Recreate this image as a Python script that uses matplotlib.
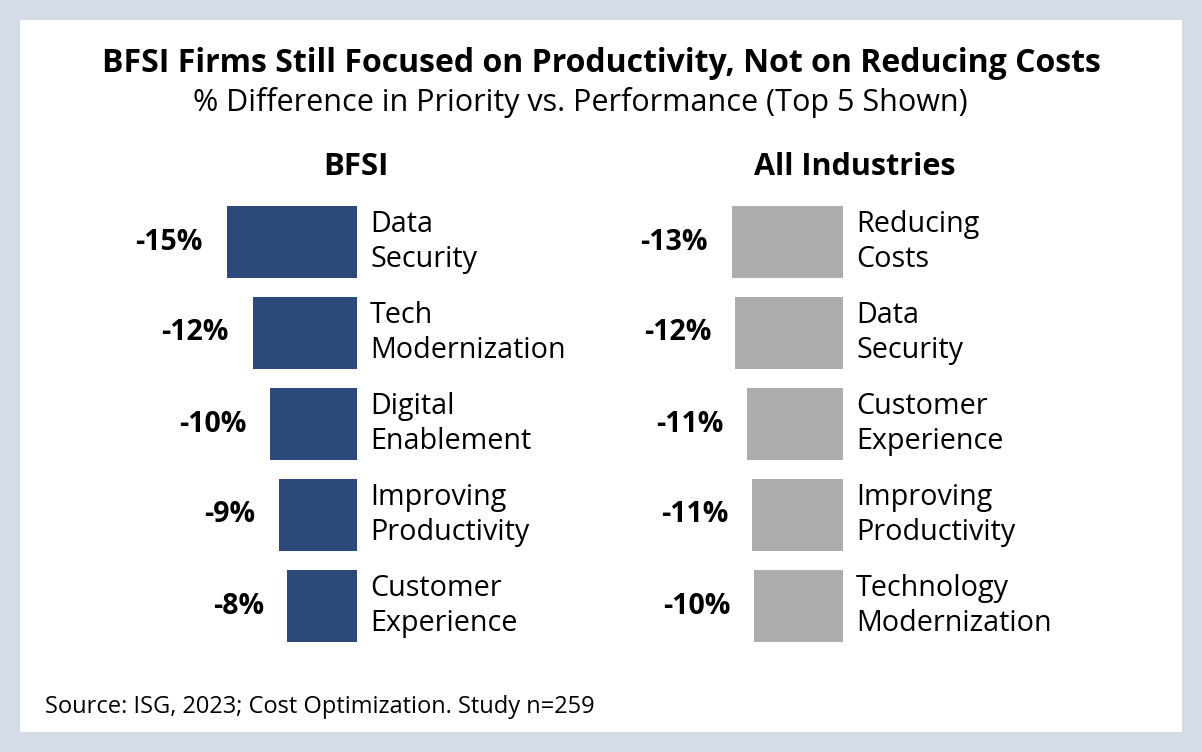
import matplotlib.pyplot as plt
from matplotlib.patches import Rectangle

plt.rcParams['font.family'] = ['Open Sans', 'DejaVu Sans']

# data
bfsi_cats = ['Data\nSecurity', 'Tech\nModernization', 'Digital\nEnablement',
             'Improving\nProductivity', 'Customer\nExperience']
bfsi_vals = [-15, -12, -10, -9, -8]
bfsi_labels = ['-15%', '-12%', '-10%', '-9%', '-8%']

all_cats = ['Reducing\nCosts', 'Data\nSecurity', 'Customer\nExperience',
            'Improving\nProductivity', 'Technology\nModernization']
all_vals = [-12.8, -12.4, -11.0, -10.5, -10.2]
all_labels = ['-13%', '-12%', '-11%', '-11%', '-10%']

W, H = 1202, 752
navy = '#2b4a7a'
grey = '#adadae'
border = '#d5dbe7'


def fx(x):
    return x / W


def fy(y):
    return 1 - y / H


fig = plt.figure(figsize=(W / 100, H / 100), dpi=100)
fig.patch.set_facecolor(border)
fig.patches.append(Rectangle((fx(20), fy(732)), fx(1162), (712) / H,
                             transform=fig.transFigure, facecolor='white',
                             edgecolor='none', zorder=-5))

fig.text(fx(601), fy(64), 'BFSI Firms Still Focused on Productivity, Not on Reducing Costs',
         ha='center', va='center', fontsize=23, fontweight='bold')
fig.text(fx(580), fy(102), '% Difference in Priority vs. Performance (Top 5 Shown)',
         ha='center', va='center', fontsize=22)
fig.text(fx(356), fy(167), 'BFSI', ha='center', va='center', fontsize=22.5, fontweight='bold')
fig.text(fx(855), fy(167), 'All Industries', ha='center', va='center',
         fontsize=22, fontweight='bold')
fig.text(fx(45), fy(707), 'Source: ISG, 2023; Cost Optimization. Study n=259',
         ha='left', va='center', fontsize=17)

scale = 8.7  # px per percent
span = 257   # px of axes width
top, step = 196.5, 91


def panel(right_px, cats, vals, labels, color):
    left_px = right_px - span
    ax = fig.add_axes([fx(left_px), fy(top + 5 * step), span / W, 5 * step / H])
    ax.set_xlim(-span / scale, 0)
    ax.set_ylim(4.5, -0.5)
    ax.axis('off')
    pos = list(range(len(vals)))
    ax.barh(pos, vals, height=0.8, color=color, left=0)
    for i in pos:
        ax.annotate(cats[i], (0, i), xytext=(9.5, 0), textcoords='offset points',
                    ha='left', va='center', fontsize=20.7, linespacing=1.25,
                    annotation_clip=False)
        ax.annotate(labels[i], (vals[i], i), xytext=(-17, 0), textcoords='offset points',
                    ha='right', va='center', fontsize=20.5, fontweight='bold',
                    annotation_clip=False)
    return ax


panel(357, bfsi_cats, bfsi_vals, bfsi_labels, navy)
panel(843, all_cats, all_vals, all_labels, grey)

fig.savefig('out.png', dpi=100, facecolor=fig.get_facecolor())
